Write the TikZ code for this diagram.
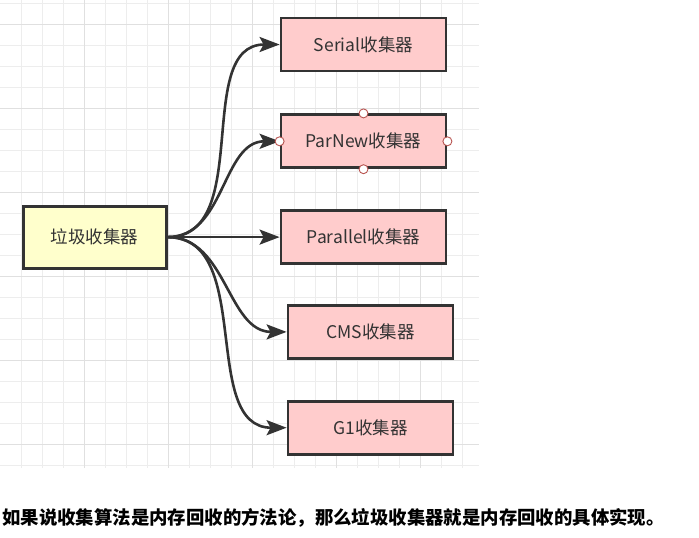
\documentclass[tikz,border=0pt]{standalone}
\usepackage{fontspec}
\setmainfont{Noto Sans CJK SC}
\usetikzlibrary{arrows.meta,positioning}

\definecolor{boxpink}{HTML}{FFCCCC}
\definecolor{boxyellow}{HTML}{FFFFCC}
\definecolor{darkline}{HTML}{333333}
\definecolor{gridminor}{HTML}{EDEDED}
\definecolor{gridmajor}{HTML}{E0E0E0}
\definecolor{pointred}{HTML}{B85450}

\begin{document}
\begin{tikzpicture}[x=1pt, y=-1pt, node distance=40pt]
    % Styles
    \tikzstyle{collector} = [rectangle, draw=darkline, line width=2.8pt, fill=boxpink, text=darkline, minimum width=165pt, minimum height=53pt, font=\fontsize{17.5}{20}\selectfont]
    \tikzstyle{root} = [collector, fill=boxyellow, minimum width=143pt, minimum height=62pt]
    \tikzstyle{line} = [draw=darkline, line width=2.6pt, -{Stealth[length=20pt,width=15pt,inset=4pt]}]
    \tikzstyle{handle} = [circle, draw=pointred, fill=white, line width=0.9pt, inner sep=0pt, minimum size=9pt]

    \useasboundingbox (0,0) rectangle (699,538);

    % Grid
    \foreach \i in {1,...,22} \draw[gridminor, line width=1pt] (21*\i,0) -- (21*\i,468);
    \foreach \j in {0,...,22} \draw[gridminor, line width=1pt] (0,3+21*\j) -- (479,3+21*\j);
    \foreach \i in {84,168,...,420} \draw[gridmajor, line width=1pt] (\i,0) -- (\i,468);
    \foreach \j in {24,108,...,444} \draw[gridmajor, line width=1pt] (0,\j) -- (479,\j);

    % Nodes
    \node [collector] (serial) at (363.5,44.5) {Serial收集器};
    \node [collector, below=41pt of serial] (parnew) {ParNew收集器};
    \node [collector, below=40pt of parnew] (parallel) {Parallel收集器};
    \node [collector, below=39pt of parallel, xshift=7pt] (cms) {CMS收集器};
    \node [collector, below=40pt of cms] (gone) {G1收集器};
    \node [root, left=112pt of parallel] (gc) {垃圾收集器};

    % Edges
    \path [line] (gc.east) to[out=0, in=180] (serial.west);
    \path [line] (gc.east) to[out=0, in=180] (parnew.west);
    \path [line] (gc.east) -- (parallel.west);
    \path [line] (gc.east) to[out=0, in=180] (cms.west);
    \path [line] (gc.east) to[out=0, in=180] (gone.west);

    % Selection handles
    \foreach \side in {north,south,east,west}
        \node [handle] at (parnew.\side) {};

    % Caption
    \node [anchor=west, inner sep=0pt, font=\bfseries\fontsize{18.4}{22}\selectfont] (caption) at (2,518) {如果说收集算法是内存回收的方法论，那么垃圾收集器就是内存回收的具体实现。};
\end{tikzpicture}
\end{document}
